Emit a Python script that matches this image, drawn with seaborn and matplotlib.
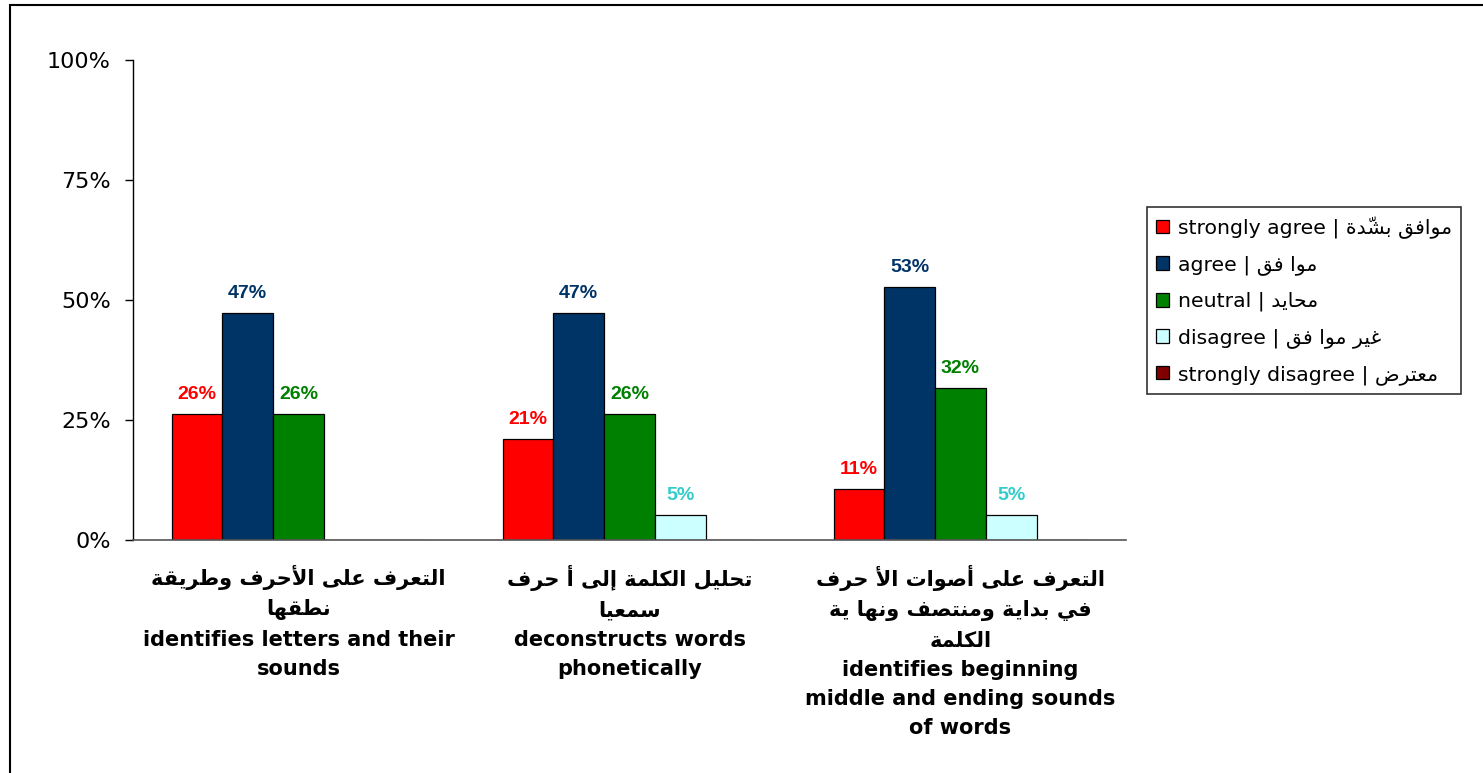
import matplotlib
matplotlib.use("Agg")
import matplotlib.pyplot as plt
from matplotlib.patches import Rectangle
import seaborn as sns
import pandas as pd

# ---------------- data ----------------
categories_ar = [
    "التعرف على الأحرف وطريقة\nنطقها",
    "تحليل الكلمة إلى أ حرف\nسمعيا",
    "التعرف على أصوات الأ حرف\nفي بداية ومنتصف ونها ية\nالكلمة",
]
categories_en = [
    "identifies letters and their\nsounds",
    "deconstructs words\nphonetically",
    "identifies beginning\nmiddle and ending sounds\nof words",
]
levels_en = ["strongly agree", "agree", "neutral", "disagree", "strongly disagree"]
levels_ar = ["موافق بشدّة", "موا فق", "محايد", "غير موا فق", "معترض"]
strongly_agree = [26.32, 21.05, 10.53]
agree = [47.37, 47.37, 52.63]
neutral = [26.32, 26.32, 31.58]
disagree = [0.0, 5.26, 5.26]
strongly_disagree = [0.0, 0.0, 0.0]
y_ticks = [0, 25, 50, 75, 100]
y_tick_labels = ["0%", "25%", "50%", "75%", "100%"]

bar_colors = ["#FF0000", "#003366", "#008000", "#CCFFFF", "#800000"]
label_colors = ["#FF0000", "#003366", "#008000", "#33CCCC", "#800000"]

# ------------- Arabic shaping helper (presentation forms + visual order) -------------
FORMS = {
    '\u0621': (0xFE80, 1), '\u0622': (0xFE81, 2), '\u0623': (0xFE83, 2), '\u0624': (0xFE85, 2),
    '\u0625': (0xFE87, 2), '\u0626': (0xFE89, 4), '\u0627': (0xFE8D, 2), '\u0628': (0xFE8F, 4),
    '\u0629': (0xFE93, 2), '\u062A': (0xFE95, 4), '\u062B': (0xFE99, 4), '\u062C': (0xFE9D, 4),
    '\u062D': (0xFEA1, 4), '\u062E': (0xFEA5, 4), '\u062F': (0xFEA9, 2), '\u0630': (0xFEAB, 2),
    '\u0631': (0xFEAD, 2), '\u0632': (0xFEAF, 2), '\u0633': (0xFEB1, 4), '\u0634': (0xFEB5, 4),
    '\u0635': (0xFEB9, 4), '\u0636': (0xFEBD, 4), '\u0637': (0xFEC1, 4), '\u0638': (0xFEC5, 4),
    '\u0639': (0xFEC9, 4), '\u063A': (0xFECD, 4), '\u0641': (0xFED1, 4), '\u0642': (0xFED5, 4),
    '\u0643': (0xFED9, 4), '\u0644': (0xFEDD, 4), '\u0645': (0xFEE1, 4), '\u0646': (0xFEE5, 4),
    '\u0647': (0xFEE9, 4), '\u0648': (0xFEED, 2), '\u0649': (0xFEEF, 2), '\u064A': (0xFEF1, 4),
}
LAM_ALEF = {'\u0622': 0xFEF5, '\u0623': 0xFEF7, '\u0625': 0xFEF9, '\u0627': 0xFEFB}


def _is_mark(ch):
    return '\u064B' <= ch <= '\u0652' or ch == '\u0670'


def _jtype(b):
    if b.startswith('LA'):
        return 'R'
    if b == '\u0640':
        return 'D'
    if b in FORMS:
        k = FORMS[b][1]
        return 'D' if k == 4 else ('R' if k == 2 else 'U')
    return 'U'


def shape_line(text):
    clusters = []
    for ch in text:
        if _is_mark(ch) and clusters:
            clusters[-1][1] += ch
        else:
            clusters.append([ch, ''])
    merged = []
    i = 0
    while i < len(clusters):
        b, m = clusters[i]
        if b == '\u0644' and i + 1 < len(clusters) and clusters[i + 1][0] in LAM_ALEF:
            merged.append(['LA' + clusters[i + 1][0], m + clusters[i + 1][1]])
            i += 2
        else:
            merged.append([b, m])
            i += 1
    out = []
    n = len(merged)
    for i, (b, m) in enumerate(merged):
        t = _jtype(b)
        prev = t in ('D', 'R') and i > 0 and _jtype(merged[i - 1][0]) == 'D'
        nxt = t == 'D' and i < n - 1 and _jtype(merged[i + 1][0]) in ('D', 'R')
        if b.startswith('LA'):
            g = chr(LAM_ALEF[b[2]] + (1 if prev else 0))
        elif b in FORMS and t != 'U':
            start, k = FORMS[b]
            if k == 4:
                idx = 3 if (prev and nxt) else 1 if prev else 2 if nxt else 0
            else:
                idx = 1 if prev else 0
            g = chr(start + idx)
        else:
            g = b
        out.append(g + m)
    return ''.join(reversed(out))


def shape(text):
    return "\n".join(shape_line(l) for l in text.split("\n"))


# ---------------- build long table ----------------
series = [strongly_agree, agree, neutral, disagree, strongly_disagree]
rows = []
for lvl, vals in zip(levels_en, series):
    for cat, v in zip(categories_en, vals):
        rows.append({"category": cat, "response": lvl, "value": v})
df = pd.DataFrame(rows)

sns.set_theme(style="white")
plt.rcParams["font.family"] = ["DejaVu Sans"]
plt.rcParams["text.color"] = "black"
plt.rcParams["xtick.color"] = "black"
plt.rcParams["ytick.color"] = "black"

fig = plt.figure(figsize=(14.83, 7.73), dpi=100)
ax = fig.add_axes([133 / 1483, 1 - 540 / 773, (1126 - 133) / 1483, 480 / 773])

sns.barplot(data=df, x="category", y="value", hue="response",
            order=categories_en, hue_order=levels_en,
            palette=bar_colors, width=0.766, edgecolor="black", linewidth=0.9,
            saturation=1, ax=ax, errorbar=None, legend=True)

ax.set_ylim(0, 100)
ax.set_xlim(-0.5, 2.5)
ax.set_yticks(y_ticks)
ax.set_yticklabels(y_tick_labels, fontsize=16, color="black")
ax.tick_params(axis="y", direction="out", length=6, width=1, pad=10, colors="black", left=True)
ax.tick_params(axis="x", length=0, pad=18)
ax.set_xlabel("")
ax.set_ylabel("")
for s in ["top", "right"]:
    ax.spines[s].set_visible(False)
ax.spines["left"].set_color("black")
ax.spines["bottom"].set_color("#555555")
ax.spines["left"].set_linewidth(1)
ax.spines["bottom"].set_linewidth(1.2)

# x tick labels (Arabic + English)
xt_labels = [shape(a) + "\n" + e for a, e in zip(categories_ar, categories_en)]
ax.set_xticks(range(len(categories_en)))
ax.set_xticklabels(xt_labels, fontsize=15, fontweight="bold", linespacing=1.58,
                   va="top", ha="center", multialignment="center", color="black")

# data labels
for cont, col in zip(ax.containers, label_colors):
    labs = ["" if b.get_height() <= 0 else f"{b.get_height():.0f}%" for b in cont]
    ax.bar_label(cont, labels=labs, padding=8, color=col, fontweight="bold",
                 fontsize=14, family=["Liberation Sans", "DejaVu Sans"])

# legend
handles, _ = ax.get_legend_handles_labels()
ax.get_legend().remove()
leg_labels = [f"{e} | {shape(a)}" for e, a in zip(levels_en, levels_ar)]
leg = fig.legend(handles, leg_labels, loc="upper left",
                 bbox_to_anchor=(1147 / 1483, 1 - 207 / 773),
                 bbox_transform=fig.transFigure, frameon=True, fancybox=False,
                 fontsize=14.7, handlelength=0.65, handleheight=0.65, handletextpad=0.4,
                 labelspacing=0.82, borderpad=0.45, borderaxespad=0)
leg.get_frame().set_edgecolor("black")
leg.get_frame().set_linewidth(1.2)
for t in leg.get_texts():
    t.set_color("black")
for h in leg.legend_handles:
    h.set_edgecolor("black")
    h.set_linewidth(0.9)

# outer frame of the chart area
fig.add_artist(Rectangle((10 / 1483, -0.2), 1.2, 1.2 - 5 / 773,
                         transform=fig.transFigure, fill=False,
                         edgecolor="black", linewidth=1.5, clip_on=False))

fig.savefig("out.png", dpi=100)
